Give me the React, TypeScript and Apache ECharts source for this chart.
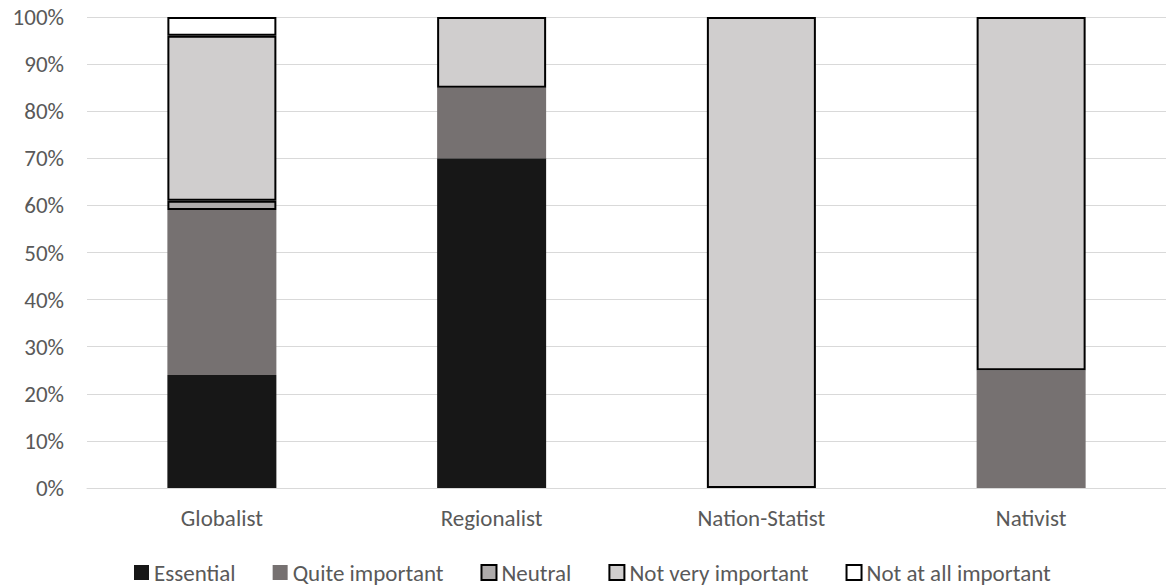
import React, { useEffect, useRef } from "react";
import * as echarts from "echarts";

// Share of each importance rating per political orientation (percent)
const categories = ["Globalist", "Regionalist", "Nation-Statist", "Nativist"];
const essential = [24, 70, 0, 0];
const quiteImportant = [35, 15, 0, 25];
const neutral = [2, 0, 0, 0];
const notVeryImportant = [35, 15, 100, 75];
const notAtAllImportant = [4, 0, 0, 0];
const yTicks = [0, 10, 20, 30, 40, 50, 60, 70, 80, 90, 100];

const FONT = "Calibri, Carlito, Lato, sans-serif";
const FONT_SIZE = 23;
const TEXT_COLOR = "#595959";

// zero shares are left out so no empty outlined segment is drawn
const toData = (values: number[]) => values.map((v) => (v === 0 ? "-" : v));

const seriesDefs = [
  { name: "Essential", values: essential, color: "#171717", outlined: false },
  { name: "Quite important", values: quiteImportant, color: "#767171", outlined: false },
  { name: "Neutral", values: neutral, color: "#AEABAB", outlined: true },
  { name: "Not very important", values: notVeryImportant, color: "#D0CECE", outlined: true },
  { name: "Not at all important", values: notAtAllImportant, color: "#FFFFFF", outlined: true },
];

export default function App() {
  const ref = useRef<HTMLDivElement>(null);

  useEffect(() => {
    if (!ref.current) return;
    const chart = echarts.init(ref.current, undefined, { renderer: "svg" });
    chart.setOption({
      animation: false,
      backgroundColor: "#ffffff",
      textStyle: { fontFamily: FONT },
      grid: { left: 87, top: 17, width: 1080, height: 471, containLabel: false },
      legend: {
        left: 134,
        top: 561,
        padding: 0,
        icon: "rect",
        itemWidth: 15,
        itemHeight: 15,
        itemGap: 37,
        textStyle: { fontFamily: FONT, fontSize: FONT_SIZE, color: TEXT_COLOR, lineHeight: 22 },
        data: seriesDefs.map((s) => s.name),
      },
      xAxis: {
        type: "category",
        data: categories,
        axisTick: { show: false },
        axisLine: { lineStyle: { color: "#D9D9D9", width: 1 } },
        axisLabel: { fontFamily: FONT, fontSize: FONT_SIZE, color: TEXT_COLOR, margin: 18 },
        z: 5,
      },
      yAxis: {
        type: "value",
        min: yTicks[0],
        max: yTicks[yTicks.length - 1],
        interval: yTicks[1] - yTicks[0],
        axisLine: { show: false },
        axisTick: { show: false },
        splitLine: { lineStyle: { color: "#D9D9D9", width: 1 } },
        axisLabel: {
          fontFamily: FONT,
          fontSize: FONT_SIZE,
          color: TEXT_COLOR,
          margin: 23,
          formatter: "{value}%",
        },
      },
      series: seriesDefs.map((s) => ({
        name: s.name,
        type: "bar",
        stack: "total",
        barWidth: 109,
        data: toData(s.values),
        itemStyle: {
          color: s.color,
          borderColor: s.outlined ? "#000000" : s.color,
          borderWidth: s.outlined ? 2 : 0,
        },
        emphasis: { disabled: true },
      })),
    });
    return () => chart.dispose();
  }, []);

  return (
    <div
      ref={ref}
      style={{ position: "fixed", left: 0, top: 0, width: 1166, height: 587, background: "#fff" }}
    />
  );
}
